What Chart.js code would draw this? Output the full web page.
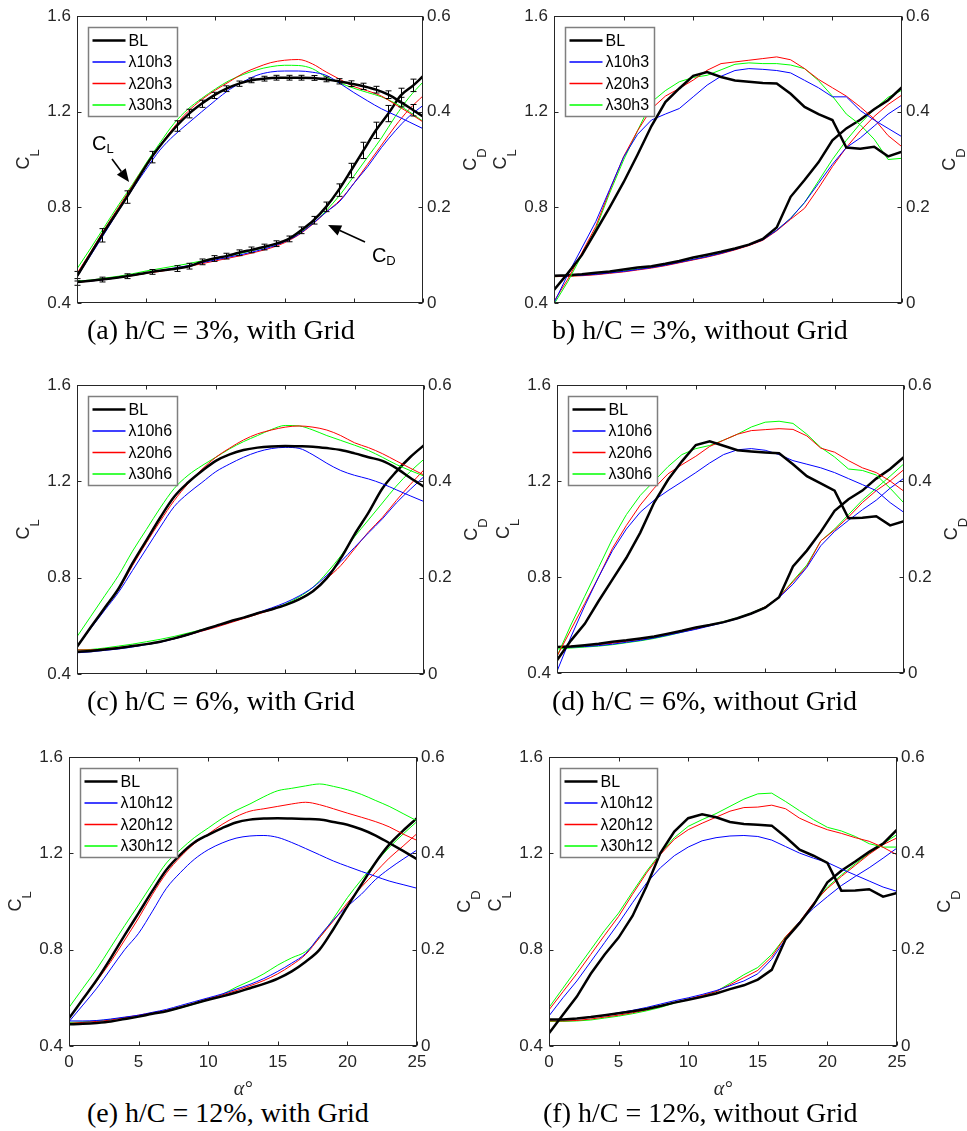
<!DOCTYPE html>
<html><head><meta charset="utf-8">
<script src="https://cdn.jsdelivr.net/npm/chart.js@4.4.1/dist/chart.umd.min.js"></script>
<style>
html,body{margin:0;padding:0;background:#fff}
body{width:967px;height:1131px;position:relative;overflow:hidden}
canvas{position:absolute}
.cap{position:absolute;font-family:'Liberation Serif','Times New Roman',serif;font-size:28px;line-height:28px;white-space:nowrap;color:#000}
.xl{position:absolute;width:60px;text-align:center;font-family:'Liberation Serif','Times New Roman',serif;font-style:italic;font-size:20px;line-height:20px;color:#262626}
</style></head><body>
<script>
// ---------- data ----------
const alpha = [0,1,2,3,4,5,6,7,8,9,10,11,12,13,14,15,16,17,18,19,20,21,22,23,24,25];
const xTicks = [0,5,10,15,20,25];
const clTicks = [0.4,0.8,1.2,1.6];
const cdTicks = [0,0.2,0.4,0.6];

// (a) h/C = 3%, with Grid
const aBLx = [0,1.8,3.6,5.4,7.2,8.1,9,9.9,10.8,11.7,12.6,13.5,14.4,15.3,16.2,17.1,18,18.9,19.8,20.7,21.6,22.5,23.4,24.3,25];
const aBL_CL = [0.512,0.683,0.843,1.010,1.140,1.192,1.233,1.268,1.296,1.317,1.331,1.338,1.342,1.342,1.342,1.341,1.335,1.327,1.317,1.306,1.292,1.271,1.240,1.206,1.18];
const aBL_CLerr = [0.02,0.028,0.026,0.024,0.022,0.018,0.015,0.013,0.012,0.011,0.01,0.01,0.01,0.01,0.01,0.01,0.01,0.011,0.012,0.013,0.014,0.016,0.02,0.024,null];
const aBL_CD = [0.044,0.049,0.056,0.065,0.072,0.077,0.086,0.093,0.098,0.105,0.111,0.117,0.124,0.134,0.152,0.173,0.201,0.236,0.277,0.319,0.361,0.396,0.434,0.455,0.474];
const aBL_CDerr = [0.007,0.005,0.005,0.005,0.006,0.006,0.006,0.006,0.006,0.006,0.006,0.006,0.006,0.006,0.007,0.008,0.01,0.013,0.015,0.017,0.017,0.017,0.015,0.013,null];
const a10_CL = [0.509,0.60,0.692,0.785,0.875,0.96,1.04,1.10,1.15,1.199,1.247,1.292,1.325,1.352,1.366,1.37,1.37,1.365,1.352,1.318,1.28,1.245,1.212,1.185,1.157,1.129];
const a20_CL = [0.523,0.615,0.71,0.80,0.89,0.98,1.06,1.135,1.2,1.25,1.29,1.325,1.36,1.385,1.405,1.415,1.418,1.40,1.366,1.335,1.305,1.287,1.265,1.23,1.195,1.157];
const a30_CL = [0.543,0.63,0.72,0.81,0.895,0.985,1.07,1.15,1.21,1.255,1.295,1.33,1.355,1.375,1.388,1.394,1.393,1.38,1.345,1.32,1.298,1.28,1.262,1.235,1.2,1.16];
const a10_CD = [0.044,0.046,0.049,0.053,0.058,0.063,0.068,0.073,0.078,0.084,0.09,0.096,0.102,0.109,0.117,0.128,0.143,0.165,0.19,0.213,0.25,0.285,0.325,0.36,0.39,0.413];
const a20_CD = [0.043,0.046,0.049,0.053,0.057,0.062,0.066,0.071,0.076,0.082,0.088,0.094,0.100,0.107,0.115,0.126,0.142,0.164,0.19,0.215,0.25,0.29,0.33,0.37,0.405,0.433];
const a30_CD = [0.046,0.048,0.052,0.056,0.061,0.067,0.072,0.077,0.082,0.088,0.094,0.099,0.105,0.112,0.12,0.13,0.145,0.165,0.193,0.226,0.265,0.305,0.345,0.39,0.43,0.462];

// (b) h/C = 3%, without Grid
const bBL_CL = [0.455,0.525,0.60,0.70,0.80,0.905,1.02,1.14,1.24,1.297,1.35,1.366,1.345,1.33,1.325,1.32,1.318,1.275,1.22,1.19,1.165,1.05,1.045,1.053,1.013,1.033];
const b10_CL = [0.40,0.52,0.63,0.74,0.875,1.01,1.105,1.165,1.19,1.213,1.262,1.311,1.348,1.372,1.38,1.377,1.372,1.362,1.331,1.30,1.262,1.262,1.205,1.165,1.13,1.095];
const b20_CL = [0.407,0.50,0.61,0.72,0.87,1.012,1.12,1.212,1.265,1.297,1.332,1.373,1.401,1.408,1.415,1.422,1.429,1.417,1.38,1.335,1.30,1.265,1.22,1.17,1.10,1.053];
const b30_CL = [0.395,0.49,0.60,0.71,0.86,0.998,1.12,1.24,1.288,1.325,1.343,1.352,1.375,1.398,1.404,1.401,1.401,1.395,1.38,1.33,1.265,1.19,1.145,1.085,1.00,1.005];
const bBL_CD = [0.057,0.058,0.06,0.063,0.066,0.07,0.074,0.077,0.082,0.088,0.095,0.101,0.107,0.114,0.122,0.134,0.158,0.222,0.257,0.294,0.34,0.365,0.383,0.405,0.424,0.451];
const b10_CD = [0.057,0.057,0.058,0.06,0.063,0.066,0.07,0.074,0.079,0.085,0.091,0.097,0.104,0.112,0.121,0.132,0.152,0.177,0.21,0.25,0.29,0.325,0.345,0.37,0.395,0.414];
const b20_CD = [0.055,0.056,0.057,0.059,0.062,0.065,0.069,0.073,0.078,0.084,0.09,0.096,0.103,0.111,0.12,0.131,0.151,0.175,0.198,0.24,0.285,0.325,0.36,0.39,0.415,0.435];
const b30_CD = [0.055,0.056,0.058,0.06,0.063,0.067,0.071,0.075,0.08,0.085,0.091,0.097,0.104,0.112,0.121,0.132,0.152,0.177,0.21,0.255,0.3,0.34,0.375,0.405,0.43,0.445];

// (c) h/C = 6%, with Grid
const cBL_CL = [0.513,0.595,0.675,0.755,0.86,0.955,1.05,1.136,1.195,1.243,1.285,1.312,1.33,1.34,1.345,1.347,1.346,1.344,1.338,1.33,1.316,1.3,1.285,1.255,1.215,1.178];
const c10_CL = [0.513,0.59,0.665,0.74,0.83,0.92,1.01,1.095,1.15,1.195,1.24,1.272,1.3,1.322,1.336,1.341,1.337,1.31,1.275,1.245,1.225,1.21,1.19,1.165,1.14,1.116];
const c20_CL = [0.513,0.593,0.672,0.75,0.85,0.945,1.035,1.12,1.19,1.25,1.3,1.338,1.372,1.397,1.413,1.425,1.43,1.425,1.413,1.39,1.36,1.34,1.315,1.285,1.255,1.226];
const c30_CL = [0.555,0.64,0.725,0.81,0.91,1.0,1.09,1.17,1.225,1.265,1.3,1.335,1.365,1.39,1.415,1.432,1.43,1.413,1.39,1.37,1.35,1.328,1.3,1.27,1.245,1.222];
const cBL_CD = [0.046,0.048,0.051,0.054,0.058,0.062,0.067,0.074,0.082,0.091,0.1,0.109,0.117,0.126,0.134,0.143,0.155,0.172,0.199,0.24,0.29,0.335,0.385,0.42,0.45,0.475];
const c10_CD = [0.044,0.046,0.049,0.052,0.056,0.061,0.066,0.073,0.081,0.09,0.099,0.108,0.117,0.127,0.137,0.148,0.162,0.18,0.205,0.233,0.263,0.293,0.322,0.355,0.383,0.41];
const c20_CD = [0.05,0.05,0.052,0.055,0.058,0.062,0.067,0.073,0.081,0.089,0.097,0.106,0.115,0.124,0.133,0.143,0.156,0.173,0.198,0.225,0.26,0.295,0.325,0.36,0.393,0.424];
const c30_CD = [0.05,0.051,0.054,0.058,0.062,0.067,0.072,0.078,0.085,0.092,0.1,0.108,0.116,0.125,0.134,0.145,0.16,0.18,0.21,0.245,0.285,0.32,0.355,0.39,0.42,0.446];

// (d) h/C = 6%, without Grid
const dBL_CL = [0.453,0.535,0.605,0.7,0.79,0.88,0.985,1.11,1.205,1.282,1.35,1.365,1.347,1.328,1.323,1.319,1.316,1.27,1.22,1.19,1.16,1.045,1.047,1.053,1.015,1.032];
const d10_CL = [0.407,0.55,0.68,0.8,0.91,1.0,1.07,1.12,1.16,1.197,1.235,1.275,1.31,1.33,1.335,1.328,1.31,1.285,1.27,1.255,1.235,1.21,1.185,1.16,1.11,1.069];
const d20_CL = [0.47,0.58,0.69,0.8,0.92,1.015,1.1,1.17,1.23,1.268,1.303,1.344,1.37,1.395,1.41,1.414,1.418,1.415,1.388,1.337,1.32,1.285,1.255,1.235,1.2,1.157];
const d30_CL = [0.47,0.6,0.72,0.84,0.96,1.06,1.14,1.2,1.26,1.31,1.335,1.348,1.37,1.395,1.425,1.445,1.449,1.44,1.395,1.34,1.3,1.25,1.244,1.225,1.17,1.108];
const dBL_CD = [0.054,0.055,0.058,0.061,0.065,0.068,0.072,0.076,0.082,0.088,0.095,0.1,0.106,0.114,0.124,0.136,0.158,0.222,0.255,0.294,0.338,0.362,0.38,0.405,0.425,0.45];
const d10_CD = [0.054,0.054,0.055,0.057,0.06,0.064,0.068,0.073,0.079,0.085,0.091,0.098,0.105,0.113,0.123,0.136,0.157,0.185,0.22,0.265,0.295,0.318,0.34,0.36,0.385,0.406];
const d20_CD = [0.055,0.056,0.057,0.059,0.062,0.066,0.07,0.075,0.08,0.086,0.092,0.099,0.106,0.114,0.124,0.138,0.158,0.19,0.222,0.275,0.298,0.325,0.355,0.38,0.4,0.424];
const d30_CD = [0.05,0.052,0.054,0.056,0.059,0.063,0.067,0.072,0.078,0.085,0.092,0.1,0.107,0.115,0.125,0.138,0.158,0.192,0.225,0.275,0.3,0.33,0.36,0.385,0.41,0.436];

// (e) h/C = 12%, with Grid
const eBL_CL = [0.515,0.595,0.675,0.765,0.86,0.952,1.045,1.132,1.195,1.245,1.277,1.305,1.328,1.34,1.345,1.346,1.345,1.343,1.34,1.33,1.319,1.3,1.275,1.243,1.21,1.176];
const e10_CL = [0.501,0.57,0.64,0.72,0.8,0.868,0.96,1.055,1.12,1.175,1.215,1.243,1.263,1.272,1.274,1.266,1.245,1.22,1.194,1.168,1.146,1.125,1.105,1.085,1.07,1.055];
const e20_CL = [0.515,0.595,0.67,0.75,0.84,0.931,1.03,1.118,1.185,1.24,1.28,1.32,1.352,1.375,1.385,1.395,1.405,1.412,1.402,1.385,1.367,1.35,1.332,1.31,1.28,1.254];
const e30_CL = [0.56,0.64,0.72,0.81,0.9,0.986,1.075,1.16,1.215,1.265,1.305,1.345,1.378,1.405,1.435,1.46,1.47,1.48,1.488,1.478,1.464,1.445,1.42,1.395,1.365,1.335];
const eBL_CD = [0.045,0.046,0.048,0.051,0.056,0.061,0.067,0.072,0.08,0.088,0.096,0.103,0.111,0.12,0.129,0.14,0.155,0.175,0.2,0.243,0.29,0.335,0.38,0.418,0.447,0.473];
const e10_CD = [0.052,0.052,0.053,0.056,0.06,0.064,0.07,0.076,0.084,0.092,0.1,0.108,0.118,0.128,0.14,0.155,0.172,0.192,0.228,0.262,0.29,0.315,0.345,0.368,0.388,0.407];
const e20_CD = [0.047,0.049,0.051,0.054,0.059,0.064,0.069,0.074,0.081,0.089,0.098,0.106,0.115,0.125,0.136,0.15,0.168,0.19,0.225,0.26,0.297,0.33,0.36,0.39,0.415,0.441];
const e30_CD = [0.049,0.05,0.052,0.055,0.059,0.062,0.067,0.072,0.079,0.087,0.096,0.107,0.122,0.135,0.15,0.168,0.183,0.196,0.225,0.265,0.308,0.345,0.38,0.412,0.44,0.466];

// (f) h/C = 12%, without Grid
const fBL_CL = [0.453,0.53,0.605,0.7,0.78,0.85,0.94,1.062,1.201,1.29,1.346,1.362,1.35,1.33,1.322,1.319,1.315,1.268,1.215,1.19,1.16,1.045,1.046,1.051,1.02,1.035];
const f10_CL = [0.525,0.6,0.67,0.75,0.83,0.91,0.995,1.076,1.14,1.19,1.226,1.252,1.265,1.272,1.274,1.27,1.255,1.228,1.201,1.18,1.162,1.135,1.11,1.085,1.06,1.042];
const f20_CL = [0.55,0.625,0.7,0.78,0.86,0.938,1.03,1.118,1.195,1.258,1.298,1.325,1.35,1.375,1.39,1.392,1.4,1.385,1.346,1.32,1.298,1.283,1.265,1.25,1.225,1.194];
const f30_CL = [0.56,0.64,0.72,0.8,0.88,0.952,1.04,1.125,1.2,1.265,1.312,1.34,1.365,1.395,1.425,1.447,1.45,1.415,1.377,1.34,1.308,1.293,1.27,1.24,1.226,1.226];
const fBL_CD = [0.055,0.055,0.057,0.06,0.064,0.068,0.072,0.077,0.083,0.09,0.096,0.102,0.109,0.118,0.126,0.138,0.158,0.222,0.255,0.293,0.34,0.364,0.383,0.403,0.42,0.449];
const f10_CD = [0.055,0.055,0.057,0.06,0.064,0.069,0.074,0.08,0.087,0.094,0.1,0.107,0.115,0.125,0.135,0.15,0.18,0.222,0.258,0.286,0.31,0.333,0.352,0.37,0.39,0.411];
const f20_CD = [0.052,0.052,0.053,0.056,0.06,0.064,0.069,0.075,0.082,0.09,0.097,0.105,0.113,0.127,0.142,0.157,0.185,0.227,0.258,0.297,0.327,0.352,0.375,0.398,0.418,0.432];
const f30_CD = [0.051,0.051,0.052,0.054,0.058,0.062,0.067,0.073,0.08,0.089,0.096,0.104,0.113,0.13,0.148,0.163,0.19,0.227,0.258,0.293,0.33,0.355,0.378,0.4,0.42,0.439];

// annotation anchors for panel (a), in data units
const aNoteCL = {x:1.08, y:1.04, tailX:2.53, tailY:1.002, tipX:3.76, tipY:0.906};
const aNoteCD = {x:21.31, y:0.0857, tailX:20.81, tailY:0.1275, tipX:18.14, tipY:0.163};

// ---------- layout & style ----------
const layout = [
  {L:77, R:423, T:16, B:303, capX:87, capY:339},
  {L:554, R:902, T:16, B:303, capX:552, capY:339},
  {L:77, R:424, T:385, B:674, capX:87, capY:710},
  {L:557, R:904, T:385, B:673, capX:552, capY:710},
  {L:69, R:417, T:757, B:1046, capX:87, capY:1122},
  {L:549, R:897, T:757, B:1046, capX:543, capY:1122}
];
const colors = ['#000000','#0000ff','#ff0000','#00ff00'];
const widths = [2.5,1,1,1];
const SANS = "'Liberation Sans', Arial, Helvetica, sans-serif";
const AX = '#262626';
const SIDE = 70, TOPPAD = 20, XH = 45;

const panels = [
  {caption:'(a) h/C = 3%, with Grid', labels:['BL','λ10h3','λ20h3','λ30h3'], xs:[aBLx,alpha,alpha,alpha],
   CL:[aBL_CL,a10_CL,a20_CL,a30_CL], CD:[aBL_CD,a10_CD,a20_CD,a30_CD], smooth:true, xlab:false,
   err:[{axis:'yL', x:aBLx, y:aBL_CL, e:aBL_CLerr},{axis:'yR', x:aBLx, y:aBL_CD, e:aBL_CDerr}], notes:true},
  {caption:'b) h/C = 3%, without Grid', labels:['BL','λ10h3','λ20h3','λ30h3'], xs:[alpha,alpha,alpha,alpha],
   CL:[bBL_CL,b10_CL,b20_CL,b30_CL], CD:[bBL_CD,b10_CD,b20_CD,b30_CD], smooth:false, xlab:false},
  {caption:'(c) h/C = 6%, with Grid', labels:['BL','λ10h6','λ20h6','λ30h6'], xs:[alpha,alpha,alpha,alpha],
   CL:[cBL_CL,c10_CL,c20_CL,c30_CL], CD:[cBL_CD,c10_CD,c20_CD,c30_CD], smooth:true, xlab:false},
  {caption:'(d) h/C = 6%, without Grid', labels:['BL','λ10h6','λ20h6','λ30h6'], xs:[alpha,alpha,alpha,alpha],
   CL:[dBL_CL,d10_CL,d20_CL,d30_CL], CD:[dBL_CD,d10_CD,d20_CD,d30_CD], smooth:false, xlab:false},
  {caption:'(e) h/C = 12%, with Grid', labels:['BL','λ10h12','λ20h12','λ30h12'], xs:[alpha,alpha,alpha,alpha],
   CL:[eBL_CL,e10_CL,e20_CL,e30_CL], CD:[eBL_CD,e10_CD,e20_CD,e30_CD], smooth:true, xlab:true},
  {caption:'(f) h/C = 12%, without Grid', labels:['BL','λ10h12','λ20h12','λ30h12'], xs:[alpha,alpha,alpha,alpha],
   CL:[fBL_CL,f10_CL,f20_CL,f30_CL], CD:[fBL_CD,f10_CD,f20_CD,f30_CD], smooth:false, xlab:true}
];

function subLabel(ctx, x, y, main, sub, mainSize, subSize, drop) {
  ctx.font = mainSize + 'px ' + SANS;
  ctx.fillText(main, x, y);
  const w = ctx.measureText(main).width;
  ctx.font = subSize + 'px ' + SANS;
  ctx.fillText(sub, x + w, y + drop);
}
function rotLabel(ctx, bx, cy, main, sub) {
  ctx.save();
  ctx.translate(bx, cy);
  ctx.rotate(-Math.PI/2);
  ctx.font = '18px ' + SANS; const w1 = ctx.measureText(main).width;
  ctx.font = '13px ' + SANS; const w2 = ctx.measureText(sub).width;
  ctx.textBaseline = 'alphabetic'; ctx.textAlign = 'left';
  subLabel(ctx, -(w1 + w2)/2, 0, main, sub, 18, 13, 10);
  ctx.restore();
}
function arrow(ctx, x1, y1, x2, y2) {
  const ang = Math.atan2(y2 - y1, x2 - x1), L = 13, H = 5.5;
  const bx = x2 - L*Math.cos(ang), by = y2 - L*Math.sin(ang);
  ctx.beginPath(); ctx.moveTo(x1, y1); ctx.lineTo(bx, by); ctx.stroke();
  ctx.beginPath();
  ctx.moveTo(x2, y2);
  ctx.lineTo(bx + H*Math.sin(ang), by - H*Math.cos(ang));
  ctx.lineTo(bx - H*Math.sin(ang), by + H*Math.cos(ang));
  ctx.closePath(); ctx.fill();
}

function makeDeco(p) {
  return {
    id: 'deco',
    afterDatasetsDraw(chart) {
      const ctx = chart.ctx, a = chart.chartArea;
      const sx = chart.scales.x, yl = chart.scales.yL, yr = chart.scales.yR;
      ctx.save();
      // error bars
      if (p.err) {
        ctx.strokeStyle = '#000'; ctx.lineWidth = 1;
        p.err.forEach(s => {
          const sc = chart.scales[s.axis];
          s.x.forEach((xv, i) => {
            const e = s.e[i]; if (e == null) return;
            const px = Math.round(sx.getPixelForValue(xv)) + 0.5;
            const p1 = sc.getPixelForValue(s.y[i] - e), p2 = sc.getPixelForValue(s.y[i] + e);
            ctx.beginPath();
            ctx.moveTo(px, p1); ctx.lineTo(px, p2);
            ctx.moveTo(px - 3, p1); ctx.lineTo(px + 3, p1);
            ctx.moveTo(px - 3, p2); ctx.lineTo(px + 3, p2);
            ctx.stroke();
          });
        });
      }
      // frame and inward ticks
      ctx.strokeStyle = AX; ctx.lineWidth = 1;
      const l = Math.round(a.left) + 0.5, r = Math.round(a.right) - 0.5, t = Math.round(a.top) + 0.5, b = Math.round(a.bottom) - 0.5;
      ctx.strokeRect(l, t, r - l, b - t);
      const tl = 4;
      ctx.beginPath();
      sx.ticks.forEach(tk => {
        const px = Math.round(sx.getPixelForValue(tk.value)) + 0.5;
        ctx.moveTo(px, b); ctx.lineTo(px, b - tl);
        ctx.moveTo(px, t); ctx.lineTo(px, t + tl);
      });
      yl.ticks.forEach(tk => {
        const py = Math.round(yl.getPixelForValue(tk.value)) + 0.5;
        ctx.moveTo(l, py); ctx.lineTo(l + tl, py);
      });
      yr.ticks.forEach(tk => {
        const py = Math.round(yr.getPixelForValue(tk.value)) + 0.5;
        ctx.moveTo(r, py); ctx.lineTo(r - tl, py);
      });
      ctx.stroke();
      // axis titles
      ctx.fillStyle = AX;
      const cy = (a.top + a.bottom) / 2;
      rotLabel(ctx, a.left - 48, cy, 'C', 'L');
      rotLabel(ctx, a.right + 53, cy, 'C', 'D');
      // annotations (panel a)
      if (p.notes) {
        ctx.fillStyle = '#000'; ctx.strokeStyle = '#000'; ctx.lineWidth = 1.6;
        ctx.textAlign = 'left'; ctx.textBaseline = 'alphabetic';
        subLabel(ctx, sx.getPixelForValue(aNoteCL.x), yl.getPixelForValue(aNoteCL.y), 'C', 'L', 20, 13, 3);
        arrow(ctx, sx.getPixelForValue(aNoteCL.tailX), yl.getPixelForValue(aNoteCL.tailY), sx.getPixelForValue(aNoteCL.tipX), yl.getPixelForValue(aNoteCL.tipY));
        subLabel(ctx, sx.getPixelForValue(aNoteCD.x), yr.getPixelForValue(aNoteCD.y), 'C', 'D', 20, 13, 3);
        arrow(ctx, sx.getPixelForValue(aNoteCD.tailX), yr.getPixelForValue(aNoteCD.tailY), sx.getPixelForValue(aNoteCD.tipX), yr.getPixelForValue(aNoteCD.tipY));
      }
      // legend
      const items = chart.data.datasets.filter(d => d.inLegend);
      ctx.font = '16px ' + SANS;
      let tw = 0; items.forEach(d => { tw = Math.max(tw, ctx.measureText(d.label).width); });
      const bx = Math.round(a.left) + 11.5, by = Math.round(a.top) + 11.5;
      const bw = Math.round(40 + tw + 5), bh = 89;
      ctx.fillStyle = '#fff'; ctx.fillRect(bx, by, bw, bh);
      ctx.strokeStyle = '#7f7f7f'; ctx.lineWidth = 1.5; ctx.strokeRect(bx, by, bw, bh);
      items.forEach((d, i) => {
        const yy = by + 13 + i * 21.5;
        ctx.strokeStyle = d.borderColor; ctx.lineWidth = d.borderWidth === 1 ? 1.5 : d.borderWidth;
        ctx.beginPath(); ctx.moveTo(bx + 4, yy); ctx.lineTo(bx + 37, yy); ctx.stroke();
        ctx.fillStyle = '#000'; ctx.textAlign = 'left'; ctx.textBaseline = 'middle';
        ctx.fillText(d.label, bx + 40, yy + 1);
      });
      ctx.restore();
    }
  };
}

function makeDS(xs, ys, k, axis, label, inLegend, smooth) {
  return {
    label: label, inLegend: inLegend,
    data: xs.map((x, i) => ({x: x, y: ys[i]})),
    borderColor: colors[k], backgroundColor: colors[k], borderWidth: widths[k],
    pointRadius: 0, pointHoverRadius: 0, yAxisID: axis, fill: false,
    tension: 0, cubicInterpolationMode: smooth ? 'monotone' : 'default'
  };
}

const tickFont = {family: SANS, size: 17};
panels.forEach((p, idx) => {
  const g = layout[idx];
  const w = g.R - g.L + 2 * SIDE, h = g.B - g.T + TOPPAD + XH;
  const cv = document.createElement('canvas');
  cv.width = w; cv.height = h;
  cv.style.left = (g.L - SIDE) + 'px'; cv.style.top = (g.T - TOPPAD) + 'px';
  cv.style.width = w + 'px'; cv.style.height = h + 'px';
  document.body.appendChild(cv);

  const datasets = [];
  for (let k = 0; k < 4; k++) datasets.push(makeDS(p.xs[k], p.CL[k], k, 'yL', p.labels[k], true, p.smooth));
  for (let k = 0; k < 4; k++) datasets.push(makeDS(p.xs[k], p.CD[k], k, 'yR', p.labels[k], false, p.smooth));

  new Chart(cv, {
    type: 'line',
    data: {datasets: datasets},
    options: {
      responsive: false, animation: false, devicePixelRatio: 1,
      layout: {padding: {top: TOPPAD, left: 0, right: 0, bottom: 0}},
      plugins: {legend: {display: false}, tooltip: {enabled: false}},
      events: [],
      scales: {
        x: {type: 'linear', min: 0, max: 25,
            afterBuildTicks: s => { s.ticks = xTicks.map(v => ({value: v})); },
            afterFit: s => { s.height = XH; },
            grid: {display: false, drawTicks: false}, border: {display: false},
            ticks: {display: p.xlab, padding: 6, font: tickFont, color: AX, autoSkip: false, maxRotation: 0, callback: v => String(v)}},
        yL: {type: 'linear', position: 'left', min: 0.4, max: 1.6,
            afterBuildTicks: s => { s.ticks = clTicks.map(v => ({value: v})); },
            afterFit: s => { s.width = SIDE; },
            grid: {display: false, drawTicks: false}, border: {display: false},
            ticks: {padding: 6, font: tickFont, color: AX, callback: v => Number(v).toFixed(1)}},
        yR: {type: 'linear', position: 'right', min: 0, max: 0.6,
            afterBuildTicks: s => { s.ticks = cdTicks.map(v => ({value: v})); },
            afterFit: s => { s.width = SIDE; },
            grid: {display: false, drawTicks: false}, border: {display: false},
            ticks: {padding: 4, font: tickFont, color: AX, callback: v => (Math.abs(v) < 1e-9 ? '0' : Number(v).toFixed(1))}}
      }
    },
    plugins: [makeDeco(p)]
  });

  const cap = document.createElement('div');
  cap.className = 'cap';
  cap.textContent = p.caption;
  cap.style.left = g.capX + 'px';
  cap.style.top = (g.capY - 23.5) + 'px';
  document.body.appendChild(cap);

  if (p.xlab) {
    const xl = document.createElement('div');
    xl.className = 'xl';
    xl.textContent = 'α°';
    xl.style.left = ((g.L + g.R) / 2 - 30) + 'px';
    xl.style.top = (1095 - 17) + 'px';
    document.body.appendChild(xl);
  }
});
</script>
</body></html>
